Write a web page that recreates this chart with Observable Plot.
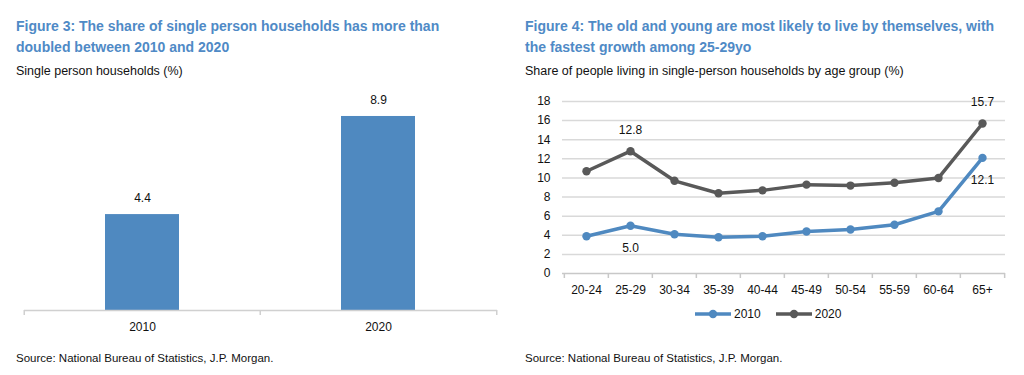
<!DOCTYPE html>
<html><head><meta charset="utf-8">
<script src="https://cdn.jsdelivr.net/npm/d3@7"></script>
<script src="https://cdn.jsdelivr.net/npm/@observablehq/plot@0.6"></script>
<style>
body{margin:0;width:1024px;height:375px;background:#fff;font-family:"Liberation Sans",Arial,sans-serif;position:relative;overflow:hidden;color:#111}
.title{position:absolute;font-weight:bold;font-size:14px;line-height:21px;color:#4f8ac6;white-space:nowrap}
.sub{position:absolute;font-size:12.5px;white-space:nowrap}
.src{position:absolute;font-size:11.5px;white-space:nowrap}
.chart{position:absolute}
.legend{position:absolute;display:flex;align-items:center;font-size:12px}
.legend span{display:inline-flex;align-items:center;margin-right:14px}
</style></head><body>
<div class="title" style="left:16px;top:16px">Figure 3: The share of single person households has more than<br>doubled between 2010 and 2020</div>
<div class="sub" style="left:16px;top:64px">Single person households (%)</div>
<div class="chart" id="left" style="left:0;top:85px"></div>
<div class="src" style="left:16px;top:352px">Source: National Bureau of Statistics, J.P. Morgan.</div>

<div class="title" style="left:525px;top:16px">Figure 4: The old and young are most likely to live by themselves, with<br>the fastest growth among 25-29yo</div>
<div class="sub" style="left:525px;top:64px">Share of people living in single-person households by age group (%)</div>
<div class="chart" id="right" style="left:512px;top:90px"></div>
<div class="legend" id="legend" style="left:694px;top:307px"></div>
<div class="src" style="left:525px;top:352px">Source: National Bureau of Statistics, J.P. Morgan.</div>

<script>
// ---- Data ----
const years = ["2010", "2020"];
const singleShare = [4.4, 8.9];

const ageGroups = ["20-24","25-29","30-34","35-39","40-44","45-49","50-54","55-59","60-64","65+"];
const share2010 = [3.9, 5.0, 4.1, 3.8, 3.9, 4.4, 4.6, 5.1, 6.5, 12.1];
const share2020 = [10.7, 12.8, 9.7, 8.4, 8.7, 9.3, 9.2, 9.5, 10.0, 15.7];
const labelledAges = ["25-29", "65+"];
const yTicks = [0,2,4,6,8,10,12,14,16,18];

const BLUE = "#4f89c0", GREY = "#595959";
const font = {fontFamily: "'Liberation Sans', Arial, sans-serif", fontSize: "12px", color: "#111", background: "transparent", overflow: "visible"};
const TICK = 5; // tick length in px

// ---- Left: bar chart ----
const barData = years.map((y, i) => ({year: y, value: singleShare[i]}));
const L = {w: 512, h: 260, ml: 24, mr: 15, mt: 7, mb: 35, ymax: 10};
const step1 = (L.w - L.ml - L.mr) / years.length;
const tick1 = TICK * L.ymax / (L.h - L.mt - L.mb);
const left = Plot.plot({
  width: L.w, height: L.h, marginLeft: L.ml, marginRight: L.mr, marginTop: L.mt, marginBottom: L.mb,
  style: font,
  x: {domain: years, paddingInner: 0.686, paddingOuter: 0.343, label: null},
  y: {domain: [0, L.ymax], axis: null, label: null},
  marks: [
    Plot.barY(barData, {x: "year", y: "value", fill: BLUE}),
    Plot.ruleY([0], {stroke: "#d0d0d0", strokeWidth: 1.5}),
    Plot.ruleX(years, {x: d => d, dx: -step1 / 2, y1: 0, y2: -tick1, stroke: "#d0d0d0", strokeWidth: 1.5}),
    Plot.ruleX(years.slice(-1), {x: d => d, dx: step1 / 2, y1: 0, y2: -tick1, stroke: "#d0d0d0", strokeWidth: 1.5}),
    Plot.text(barData, {x: "year", y: "value", text: d => d.value.toFixed(1), dy: -16, fontSize: 12, fill: "#111"}),
    Plot.axisX({tickSize: 0, tickPadding: 12, fontSize: 12, fill: "#111", label: null})
  ]
});
document.getElementById("left").append(left);

// ---- Right: line chart ----
const lineData = [
  ...ageGroups.map((a, i) => ({age: a, year: "2010", v: share2010[i]})),
  ...ageGroups.map((a, i) => ({age: a, year: "2020", v: share2020[i]}))
];
const R = {w: 512, h: 215, ml: 50, mr: 19, mt: 11, mb: 32, ymax: 18};
const step2 = (R.w - R.ml - R.mr) / ageGroups.length;
const tick2 = TICK * R.ymax / (R.h - R.mt - R.mb);
const lab = (yr) => lineData.filter(d => d.year === yr && labelledAges.includes(d.age));
const right = Plot.plot({
  width: R.w, height: R.h, marginLeft: R.ml, marginRight: R.mr, marginTop: R.mt, marginBottom: R.mb,
  style: font,
  x: {type: "point", domain: ageGroups, padding: 0.5, label: null},
  y: {domain: [0, R.ymax], label: null},
  color: {domain: years, range: [BLUE, GREY]},
  marks: [
    Plot.gridY(yTicks.slice(1), {stroke: "#d9d9d9", strokeOpacity: 1, strokeWidth: 1.5}),
    Plot.ruleY([0], {stroke: "#c8c8c8", strokeWidth: 1.5}),
    Plot.ruleX(ageGroups, {x: d => d, dx: -step2 / 2, y1: 0, y2: -tick2, stroke: "#c8c8c8", strokeWidth: 1.5}),
    Plot.ruleX(ageGroups.slice(-1), {x: d => d, dx: step2 / 2, y1: 0, y2: -tick2, stroke: "#c8c8c8", strokeWidth: 1.5}),
    Plot.axisY({ticks: yTicks, tickSize: 0, tickPadding: 12, fontSize: 12, fill: "#111", label: null}),
    Plot.axisX({tickSize: 0, tickPadding: 12, fontSize: 12, fill: "#111", label: null}),
    Plot.line(lineData, {x: "age", y: "v", z: "year", stroke: "year", strokeWidth: 3.5}),
    Plot.dot(lineData, {x: "age", y: "v", fill: "year", r: 4.2}),
    Plot.text(lab("2020"), {x: "age", y: "v", text: d => d.v.toFixed(1), dy: -21, fontSize: 12, fill: "#111"}),
    Plot.text(lab("2010"), {x: "age", y: "v", text: d => d.v.toFixed(1), dy: 22, fontSize: 12, fill: "#111"})
  ]
});
document.getElementById("right").append(right);

// ---- Legend ----
const legend = document.getElementById("legend");
years.forEach((y, i) => {
  const c = [BLUE, GREY][i];
  const s = document.createElement("span");
  s.innerHTML = `<svg width="38" height="12" style="margin-right:2px"><line x1="1" x2="37" y1="6" y2="6" stroke="${c}" stroke-width="3.5"/><circle cx="19" cy="6" r="4.2" fill="${c}"/></svg>${y}`;
  legend.append(s);
});
</script>
</body></html>
